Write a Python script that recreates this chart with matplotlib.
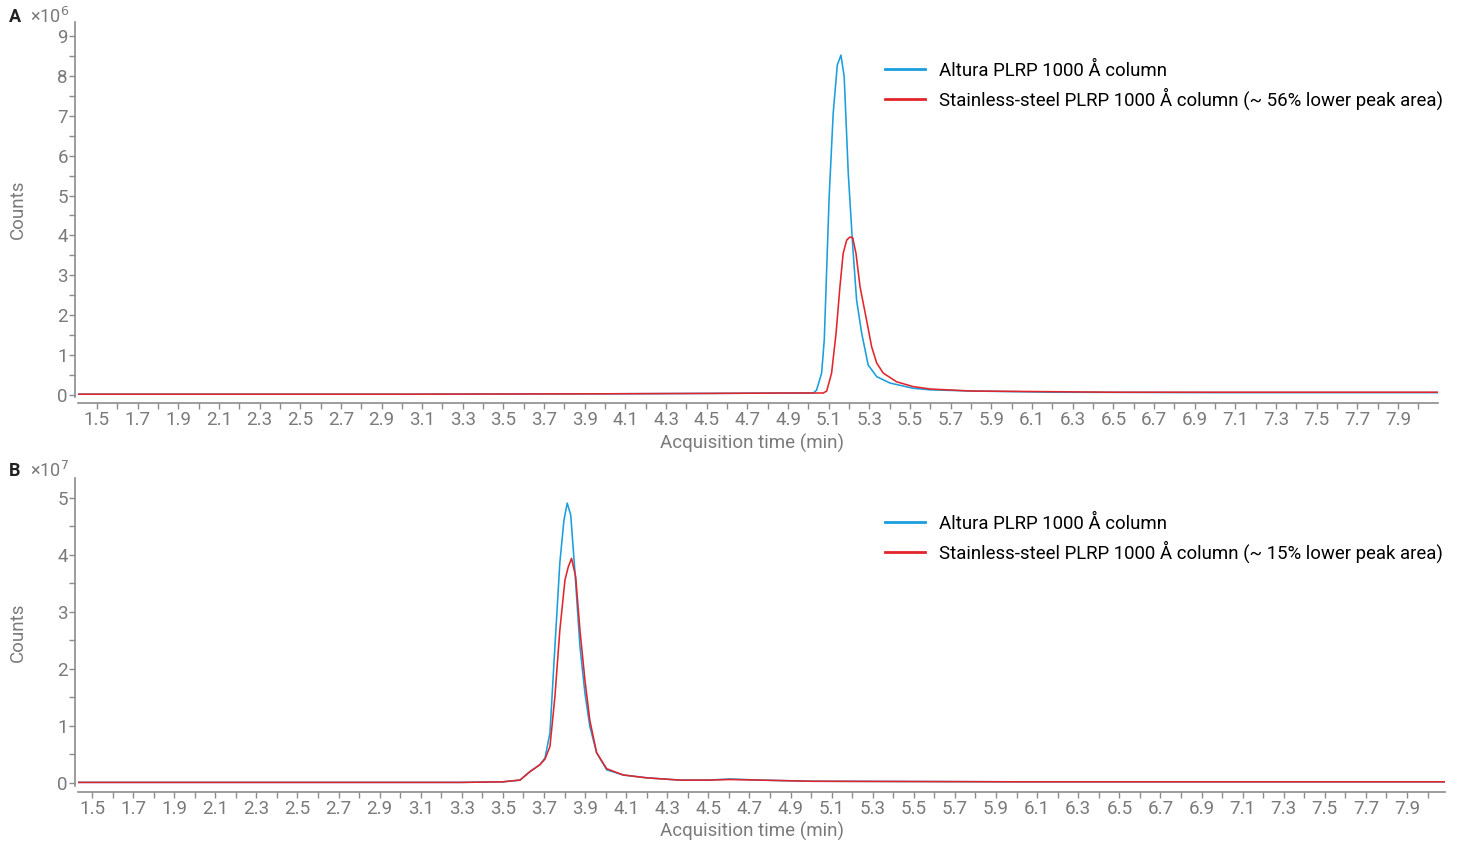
import matplotlib
matplotlib.use("Agg")
import matplotlib.pyplot as plt
from matplotlib.ticker import MultipleLocator, FormatStrFormatter

plt.rcParams['font.family'] = ['Roboto', 'DejaVu Sans']

# ---- data: panel A (x1e6 counts) ----
a_blue_t = [1.41, 2.0, 3.0, 4.0, 4.5, 4.9, 5.024, 5.040, 5.065, 5.078, 5.102, 5.122, 5.142, 5.160,
            5.176, 5.196, 5.218, 5.237, 5.262, 5.294, 5.336, 5.401, 5.514, 5.598, 5.8, 6.2, 7.0, 8.097]
a_blue_y = [0.02, 0.02, 0.02, 0.03, 0.04, 0.05, 0.05, 0.12, 0.55, 1.38, 4.97, 7.07, 8.27, 8.52,
            7.98, 5.56, 3.72, 2.38, 1.55, 0.75, 0.46, 0.30, 0.17, 0.13, 0.10, 0.07, 0.06, 0.06]
a_red_t = [1.41, 2.0, 3.0, 4.0, 4.5, 4.9, 5.073, 5.090, 5.114, 5.136, 5.155, 5.171, 5.188, 5.204,
           5.218, 5.234, 5.254, 5.286, 5.311, 5.336, 5.368, 5.434, 5.516, 5.600, 5.8, 6.5, 7.5, 8.097]
a_red_y = [0.02, 0.02, 0.02, 0.03, 0.04, 0.05, 0.05, 0.10, 0.55, 1.55, 2.71, 3.55, 3.88, 3.96,
           3.94, 3.55, 2.71, 1.88, 1.21, 0.80, 0.55, 0.33, 0.21, 0.15, 0.10, 0.07, 0.07, 0.07]

# ---- data: panel B (x1e7 counts) ----
b_blue_t = [1.43, 2.5, 3.3, 3.5, 3.583, 3.632, 3.680, 3.705, 3.729, 3.753, 3.777, 3.797, 3.813,
            3.830, 3.851, 3.875, 3.899, 3.923, 3.956, 4.005, 4.085, 4.199, 4.361, 4.5, 4.605,
            4.75, 5.0, 6.0, 7.0, 8.085]
b_blue_y = [0.01, 0.01, 0.01, 0.02, 0.05, 0.20, 0.32, 0.44, 0.88, 2.39, 3.86, 4.61, 4.91,
            4.70, 3.68, 2.39, 1.58, 0.99, 0.53, 0.23, 0.14, 0.09, 0.05, 0.05, 0.07,
            0.05, 0.03, 0.02, 0.02, 0.02]
b_red_t = [1.43, 2.5, 3.3, 3.5, 3.583, 3.632, 3.680, 3.705, 3.729, 3.753, 3.777, 3.802, 3.818,
           3.834, 3.854, 3.875, 3.899, 3.923, 3.956, 4.005, 4.085, 4.199, 4.361, 4.5, 4.605,
           4.75, 5.0, 6.0, 7.0, 8.085]
b_red_y = [0.01, 0.01, 0.01, 0.02, 0.05, 0.20, 0.32, 0.42, 0.64, 1.51, 2.68, 3.56, 3.79,
           3.94, 3.62, 2.68, 1.81, 1.10, 0.53, 0.25, 0.14, 0.09, 0.05, 0.05, 0.06,
           0.05, 0.03, 0.02, 0.02, 0.02]

labels_a = ["Altura PLRP 1000 Å column",
            "Stainless-steel PLRP 1000 Å column (~ 56% lower peak area)"]
labels_b = ["Altura PLRP 1000 Å column",
            "Stainless-steel PLRP 1000 Å column (~ 15% lower peak area)"]

BLUE = '#1a9ede'
RED = '#e2252b'
GRAY = '#7a7a7a'
SPINE = '#8c8c8c'
FS = 13.5
LFS = 13.4

W, H = 1466, 846
fig = plt.figure(figsize=(W / 100, H / 100), dpi=100)


def px_axes(l, t, r, b):
    return fig.add_axes([l / W, 1 - b / H, (r - l) / W, (b - t) / H])


def style(ax, xlim, ylim, ymax_tick):
    ax.set_xlim(*xlim)
    ax.set_ylim(*ylim)
    for s in ['top', 'right']:
        ax.spines[s].set_visible(False)
    ax.spines['left'].set_position(('outward', 2.2))
    ax.spines['bottom'].set_position(('outward', 4.3))
    for s in ['left', 'bottom']:
        ax.spines[s].set_color(SPINE)
        ax.spines[s].set_linewidth(1.2)
    ax.set_xticks([1.5 + 0.2 * i for i in range(33)])
    ax.xaxis.set_minor_locator(MultipleLocator(0.1))
    ax.xaxis.set_major_formatter(FormatStrFormatter('%.1f'))
    ax.set_yticks(list(range(0, ymax_tick + 1)))
    ax.yaxis.set_minor_locator(MultipleLocator(0.5))
    ax.tick_params(axis='both', which='both', colors=SPINE, labelcolor=GRAY,
                   labelsize=FS, width=1.0)
    ax.tick_params(axis='x', which='both', length=4, pad=2)
    ax.tick_params(axis='y', which='both', length=4, pad=1)
    ax.set_ylabel('Counts', color=GRAY, fontsize=FS, labelpad=22)


def legend(ax, labels, top_px):
    leg = ax.legend(labels=labels, loc='upper left', bbox_to_anchor=(868 / W, 1 - top_px / H),
                    bbox_transform=fig.transFigure, frameon=False, fontsize=LFS,
                    handlelength=2.15, handletextpad=0.75, labelspacing=0.42)
    for ln in leg.get_lines():
        ln.set_linewidth(2.0)


# Panel A
axA = px_axes(78, 22, 1438, 397)
axA.plot(a_blue_t, a_blue_y, color=BLUE, lw=1.15)
axA.plot(a_red_t, a_red_y, color=RED, lw=1.15)
style(axA, (1.407, 8.097), (-0.05, 9.35), 9)
axA.set_xlabel('Acquisition time (min)', color=GRAY, fontsize=FS, labelpad=3)
axA.xaxis.label.set_x((751.5 - 78) / 1360)
legend(axA, labels_a, 45)

# Panel B
axB = px_axes(78, 478, 1445, 785.8)
axB.plot(b_blue_t, b_blue_y, color=BLUE, lw=1.15)
axB.plot(b_red_t, b_red_y, color=RED, lw=1.15)
style(axB, (1.432, 8.085), (-0.05, 5.35), 5)
axB.set_xlabel('Acquisition time (min)', color=GRAY, fontsize=FS, labelpad=3)
axB.xaxis.label.set_x((751.5 - 78) / 1367)
legend(axB, labels_b, 498)

# panel letters and multipliers
fig.text(9 / W, 1 - 17 / H, 'A', fontsize=13, fontweight='bold', color='#222222', va='center')
fig.text(30 / W, 1 - 17 / H, r'×10$^{6}$', fontsize=13, color=GRAY, va='center')
fig.text(9 / W, 1 - 471 / H, 'B', fontsize=13, fontweight='bold', color='#222222', va='center')
fig.text(30 / W, 1 - 471 / H, r'×10$^{7}$', fontsize=13, color=GRAY, va='center')

fig.savefig('out.png', dpi=100)
